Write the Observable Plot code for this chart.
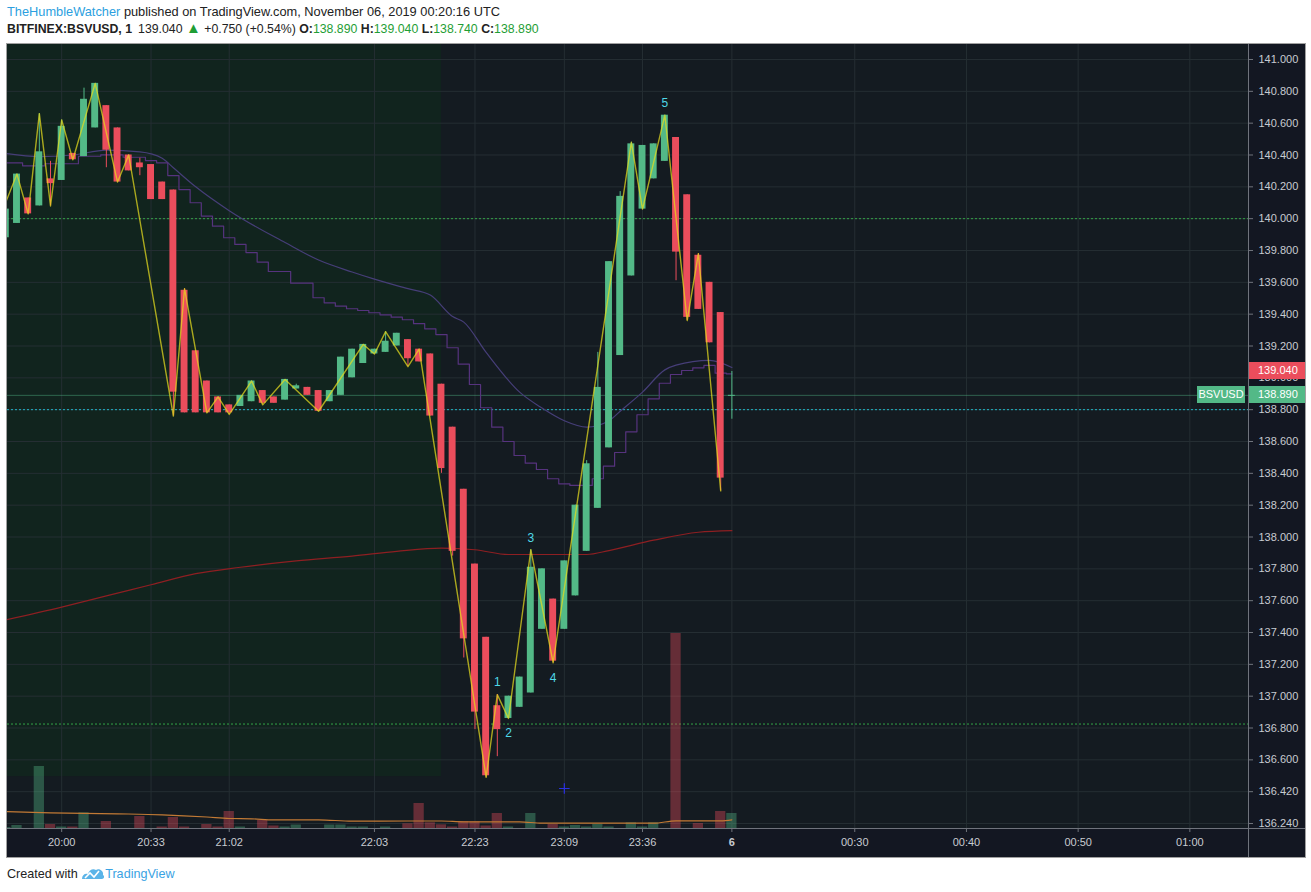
<!DOCTYPE html>
<html>
<head>
<meta charset="utf-8">
<script src="https://cdn.jsdelivr.net/npm/d3@7"></script>
<script src="https://cdn.jsdelivr.net/npm/@observablehq/plot@0.6"></script>
<style>
html,body{margin:0;padding:0;background:#fff;width:1311px;height:892px;overflow:hidden;font-family:"Liberation Sans",Arial,sans-serif;}
.hdr{position:absolute;left:7px;line-height:16px;color:#222;white-space:nowrap;}
#h1{top:4px;font-size:12.8px}
#h2{top:21px;font-size:12.3px}
.g{color:#1f9e35}
.tri{color:#1f9e35;font-size:15px;line-height:12px}
#wrap{position:absolute;left:6px;top:43px;width:1298px;height:813px;border:1px solid #a0a0a0;background:#131722;overflow:hidden}
#wrap svg{position:absolute;left:0;top:0}
.sep{position:absolute;background:#6f737c}
.plabel{position:absolute;color:#fff;font-size:11px;height:17px;line-height:17px;box-sizing:border-box;white-space:nowrap}
#foot{position:absolute;left:7px;top:866px;font-size:12.6px;line-height:16px;color:#222;white-space:nowrap}
g[aria-label^="y-axis"] text, g[aria-label^="x-axis"] text{fill:#c8cbd1}
</style>
</head>
<body>
<div id="h1" class="hdr"></div>
<div id="h2" class="hdr"></div>
<div id="wrap"></div>
<div id="foot">Created with <svg width="24" height="13" viewBox="0 0 24 13" style="vertical-align:-2px"><path d="M1 12 C1 8 4 6 7 7 C8 3 12 1 15 3 C18 1 23 4 22 8 C24 9 23 12 21 12 Z" fill="#5bb4e8"/><path d="M4 11 L9 6 L13 10 L18 4" stroke="#fff" stroke-width="1.6" fill="none"/></svg><span style="color:#3aa3e3">TradingView</span></div>
<script>
// ---------- DATA ----------
const author = "TheHumbleWatcher";
const publishedText = " published on TradingView.com, November 06, 2019 00:20:16 UTC";
const symbol = "BITFINEX:BSVUSD, 1";
const lastPriceText = "139.040";
const changeText = "+0.750 (+0.54%)";

const barIndex = d3.range(-1, 65); // bar slots -1 .. 64 (1-minute bars, gaps skipped)
const opens  = [139.88,139.97,140.13,140.08,140.25,140.24,140.41,140.39,140.57,140.71,140.57,140.40,140.35,140.34,140.23,140.18,139.55,139.17,138.98,138.88,138.83,138.82,138.85,138.92,138.88,138.86,138.93,138.94,138.92,138.85,138.89,139.00,139.09,139.15,139.16,139.20,139.24,139.18,139.15,138.96,138.69,138.30,137.83,137.37,136.94,136.86,136.93,137.02,137.42,137.61,137.42,137.63,137.91,138.18,138.56,139.14,139.64,140.06,140.25,140.36,140.51,140.15,139.77,139.60,139.41,138.89];
const highs  = [140.06,140.28,140.13,140.66,140.36,140.62,140.41,140.82,140.85,140.71,140.57,140.40,140.38,140.34,140.23,140.18,139.56,139.17,138.98,138.88,138.83,138.89,138.98,138.92,138.88,138.99,138.96,138.94,138.92,138.92,139.13,139.18,139.21,139.18,139.29,139.28,139.24,139.18,139.15,138.96,138.69,138.30,137.83,137.37,137.01,137.00,137.12,137.92,137.80,137.61,137.85,138.20,138.48,139.16,139.73,140.17,140.48,140.46,140.47,140.65,140.51,140.15,139.78,139.60,139.41,139.04];
const lows   = [139.88,139.97,140.03,140.08,140.08,140.24,140.37,140.39,140.57,140.32,140.23,140.30,140.27,140.12,140.12,138.76,138.78,138.78,138.78,138.78,138.77,138.82,138.85,138.83,138.84,138.86,138.93,138.89,138.79,138.85,138.89,139.00,139.09,139.15,139.16,139.20,139.07,139.10,138.76,138.40,137.88,137.24,136.79,136.49,136.62,136.86,136.93,137.02,137.42,137.21,137.42,137.63,137.91,138.18,138.56,139.14,139.64,140.06,140.25,140.36,139.61,139.36,139.43,139.22,138.29,138.74];
const closes = [140.06,140.28,140.03,140.42,140.22,140.58,140.37,140.75,140.85,140.43,140.23,140.30,140.32,140.12,140.12,138.91,138.78,138.78,138.78,138.78,138.78,138.89,138.98,138.84,138.84,138.99,138.95,138.89,138.79,138.92,139.13,139.18,139.21,139.18,139.23,139.28,139.12,139.10,138.76,138.43,137.91,137.36,136.90,136.50,136.79,137.00,137.12,137.81,137.80,137.22,137.85,138.20,138.46,138.94,139.73,140.14,140.47,140.46,140.47,140.65,139.79,139.38,139.43,139.22,138.37,138.89];
const volumes = [1,3,0,62,4,1.5,1.5,15.7,0,7,0,0,12,0,1.5,11,1.5,0,4,1.5,17,1.5,0,8,2.5,1.5,3.5,0,0,3.5,3.5,1.5,1.5,0,1.5,0,4.7,25,5.7,3.7,1.5,7,6.7,2.5,15,1.5,0,15,0,4,1.5,3,1.5,4,1.5,0,5.7,1.5,5.7,0,195,0,5,0,17,15];

// step moving average (one value per bar)
const stepMA = [140.351,140.351,140.332,140.332,140.345,140.345,140.345,140.392,140.392,140.401,140.401,140.386,140.386,140.365,140.351,140.271,140.183,140.100,140.016,139.953,139.880,139.838,139.787,139.727,139.668,139.668,139.595,139.595,139.503,139.471,139.450,139.434,139.423,139.409,139.396,139.381,139.365,139.340,139.308,139.272,139.189,139.086,138.958,138.812,138.690,138.600,138.512,138.464,138.424,138.366,138.334,138.324,138.324,138.366,138.445,138.531,138.661,138.768,138.868,138.966,139.021,139.046,139.063,139.078,139.029,139.025];
// smooth moving average, read at these bars
const smoothIdx = [-1,2,5,8,11,13,14,16,19,24,27,30,32,35,37,39,40,42,45,47,49,51,53,54,56,58,59,62,64];
const smoothVal = [140.41,140.39,140.40,140.43,140.42,140.38,140.32,140.20,140.05,139.85,139.74,139.665,139.62,139.56,139.52,139.385,139.35,139.16,138.91,138.81,138.73,138.69,138.73,138.79,138.91,139.05,139.08,139.11,139.065];
// long moving average (dark red)
const longIdx = [-1,4,8,12,16,20,25,30,34,38,41,44,48,51,53,57,61,64];
const longVal = [137.48,137.56,137.63,137.70,137.77,137.81,137.85,137.88,137.91,137.93,137.92,137.89,137.89,137.89,137.915,137.98,138.03,138.04];
// volume moving average
const volMAIdx = [-1,3,9,13,17,19,21,23,27,30,35,38,40,45,47,57,59,63,64];
const volMAVal = [17,15.7,14.7,13.7,11.5,10,9.7,8.7,8.7,7.3,7.5,7.5,6.7,6.7,5.3,5.3,7.7,7.7,8.7];

// zigzag pivots
const zigIdx = [-2,0,1,2,3,4,5,7,9,10,14,15,17,18,19,21,22,24,27,31,32,33,35,36,42,43,44,46,48,55,56,58,60,61,63];
const zigVal = [139.93,140.28,140.03,140.66,140.08,140.62,140.37,140.85,140.23,140.40,138.76,139.56,138.78,138.88,138.77,138.98,138.83,138.99,138.79,139.21,139.15,139.29,139.07,139.18,136.49,137.01,136.86,137.92,137.21,140.48,140.06,140.65,139.36,139.78,138.29];

// wave labels
const waveText = ["1","2","3","4","5"];
const waveIdx  = [43,44,46,48,58];
const waveVal  = [137.01,136.86,137.92,137.21,140.65];
const waveSide = ["above","below","above","below","above"];

// horizontal drawn levels
const greenLevels = [140.0, 136.825];
const cyanLevels = [138.80];
// highlighted zone (bar from, bar to, price low, price high)
const zone = [{i1:-5, i2:38.0, p1:136.495, p2:142}];
// small marker
const crossMark = [{i:49, p:136.42}];

// axes
const xTickIdx = [4,12,19,32,41,49,56,64,75,85,95,105];
const xTickLabels = ["20:00","20:33","21:02","22:03","22:23","23:09","23:36","6","00:30","00:40","00:50","01:00"];
const yTickVals = [141.0,140.8,140.6,140.4,140.2,140.0,139.8,139.6,139.4,139.2,139.0,138.8,138.6,138.4,138.2,138.0,137.8,137.6,137.4,137.2,137.0,136.8,136.6,136.4,136.2];
const yTickLabels = ["141.000","140.800","140.600","140.400","140.200","140.000","139.800","139.600","139.400","139.200","139.000","138.800","138.600","138.400","138.200","138.000","137.800","137.600","137.400","137.200","137.000","136.800","136.600","136.420","136.240"];

// ---------- BUILD ----------
const bars = barIndex.map((i,k)=>({i, o:opens[k], h:highs[k], l:lows[k], c:closes[k], v:volumes[k], ma:stepMA[k]}));
const smooth = smoothIdx.map((i,k)=>({i, v:smoothVal[k]}));
const longMA = longIdx.map((i,k)=>({i, v:longVal[k]}));
const volMA = volMAIdx.map((i,k)=>({i, v:volMAVal[k]}));
const zig = zigIdx.map((i,k)=>({i, p:zigVal[k]}));
const waves = waveText.map((t,k)=>({t, i:waveIdx[k], p:waveVal[k], side:waveSide[k]}));
const last = bars[bars.length-1];

const GREEN="#53b987", RED="#eb4d5c";
const upCol = d => d.c >= d.o ? GREEN : RED;
const W=1298, H=813, MR=57, MB=29;
const xDomain=[-0.85,110.25], yDomain=[136.1687,141.0942];
const xLab = new Map(xTickIdx.map((d,k)=>[d,xTickLabels[k]]));
const yLab = new Map(yTickVals.map((d,k)=>[d,yTickLabels[k]]));

document.getElementById("h1").innerHTML = `<span style="color:#2c9fe0">${author}</span>${publishedText}`;
const f3 = d3.format(".3f");
document.getElementById("h2").innerHTML =
  `<b>${symbol}</b><span style="margin-left:6px">${lastPriceText}</span> <span class="tri">▲</span> ${changeText} ` +
  `<b>O:</b><span class="g">${f3(last.o)}</span> <b>H:</b><span class="g">${f3(last.h)}</span> ` +
  `<b>L:</b><span class="g">${f3(last.l)}</span> <b>C:</b><span class="g">${f3(last.c)}</span>`;

const common = {width:W, height:H, marginLeft:0, marginRight:MR, marginTop:0, marginBottom:MB};

const main = Plot.plot({
  ...common,
  style:{background:"transparent", color:"#70747c", fontFamily:"Liberation Sans, Arial, sans-serif", fontSize:"11px"},
  color:{type:"identity"},
  x:{domain:xDomain, ticks:xTickIdx, tickFormat:d=>xLab.get(d), tickSize:4, tickPadding:6, label:null},
  y:{domain:yDomain, axis:"right", ticks:yTickVals, tickFormat:d=>yLab.get(d), tickSize:4, tickPadding:6, label:null},
  marks:[
    Plot.frame({fill:"#141b21", stroke:"none"}),
    Plot.rect(zone, {x1:"i1", x2:"i2", y1:"p1", y2:"p2", fill:"#11241e", clip:true}),
    Plot.ruleY(yTickVals, {stroke:"#252e33"}),
    Plot.ruleX(xTickIdx, {stroke:"#252e33"}),
    Plot.ruleY(greenLevels, {stroke:"#33a447", strokeDasharray:"2,2"}),
    Plot.ruleY(cyanLevels, {stroke:"#22b7c7", strokeDasharray:"2,2"}),
    Plot.ruleY([last.c], {stroke:GREEN, strokeOpacity:0.45}),
    Plot.line(longMA, {x:"i", y:"v", stroke:"#8e1f22", strokeWidth:1.2, curve:"monotone-x", clip:true}),
    Plot.line(smooth, {x:"i", y:"v", stroke:"#463e78", strokeWidth:1.2, curve:"monotone-x", clip:true}),
    Plot.line(bars, {x:"i", y:"ma", stroke:"#56337e", strokeWidth:1.2, curve:"step", clip:true}),
    Plot.ruleX(bars, {x:"i", y1:"l", y2:"h", stroke:upCol, clip:true}),
    Plot.rect(bars.filter(d=>d.o!==d.c), {x1:d=>d.i-0.31, x2:d=>d.i+0.31, y1:"o", y2:"c", fill:upCol, clip:true}),
    Plot.ruleY(bars.filter(d=>d.o===d.c), {y:"o", x1:d=>d.i-0.31, x2:d=>d.i+0.31, stroke:GREEN}),
    Plot.line(zig, {x:"i", y:"p", stroke:"#e6dc1e", strokeOpacity:0.72, strokeWidth:1.4, clip:true}),
    Plot.text(waves.filter(d=>d.side==="above"), {x:"i", y:"p", text:"t", dy:-12, fill:"#4fd8e8", fontSize:12}),
    Plot.text(waves.filter(d=>d.side==="below"), {x:"i", y:"p", text:"t", dy:15, fill:"#4fd8e8", fontSize:12}),
    Plot.dot(crossMark, {x:"i", y:"p", symbol:"plus", stroke:"#2a30e0", r:3.5, strokeWidth:1.2})
  ]
});

const vol = Plot.plot({
  ...common,
  style:{background:"transparent"},
  color:{type:"identity"},
  x:{domain:xDomain, axis:null},
  y:{domain:[0, H-MB], axis:null},
  marks:[
    Plot.rect(bars.filter(d=>d.v>0), {x1:d=>d.i-0.46, x2:d=>d.i+0.46, y1:0, y2:"v", fill:upCol, fillOpacity:0.38, clip:true}),
    Plot.line(volMA, {x:"i", y:"v", stroke:"#c27a35", strokeWidth:1.2, curve:"monotone-x", clip:true})
  ]
});
vol.style.pointerEvents="none";

const wrap = document.getElementById("wrap");
wrap.appendChild(main);
wrap.appendChild(vol);

// bold day label
d3.select(main).selectAll("text").filter(function(){return this.textContent===xTickLabels[7];}).attr("font-weight","bold");

// separators
const ys = main.scale("y");
const sepV = document.createElement("div"); sepV.className="sep";
Object.assign(sepV.style,{left:(W-MR)+"px", top:"0px", width:"1px", height:H+"px"}); wrap.appendChild(sepV);
const sepH = document.createElement("div"); sepH.className="sep";
Object.assign(sepH.style,{left:"0px", top:(H-MB)+"px", width:W+"px", height:"1px"}); wrap.appendChild(sepH);

// price labels on the axis
function priceBox(price, text, bg, left, width, pad, align){
  const el=document.createElement("div"); el.className="plabel";
  Object.assign(el.style,{left:left+"px", width:width+"px", top:(ys.apply(price)-8.5)+"px", background:bg, paddingLeft:pad+"px", textAlign:align});
  el.textContent=text; wrap.appendChild(el);
}
priceBox(last.h, f3(last.h), RED, W-MR+1, MR, 9, "left");
priceBox(last.c, f3(last.c), GREEN, W-MR+1, MR, 9, "left");
priceBox(last.c, "BSVUSD", GREEN, W-MR-51, 48, 0, "center");
</script>
</body>
</html>
